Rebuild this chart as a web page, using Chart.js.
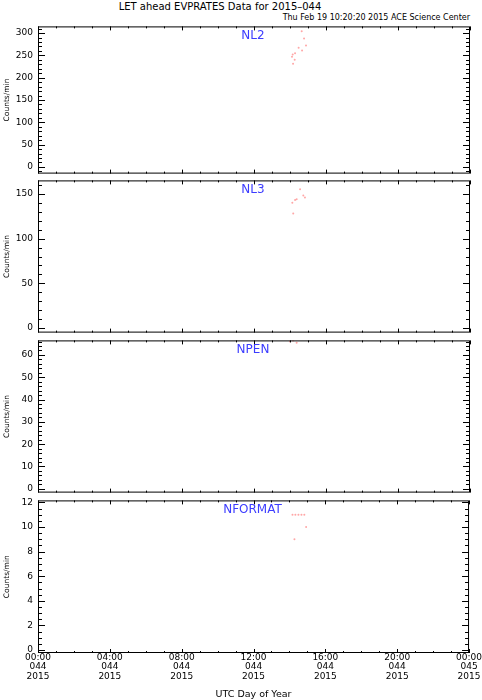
<!DOCTYPE html>
<html>
<head>
<meta charset="utf-8">
<script src="https://cdn.jsdelivr.net/npm/chart.js@4.4.0/dist/chart.umd.min.js"></script>
<style>
  body { margin: 0; background: #fff; }
  #page { position: relative; width: 482px; height: 700px; overflow: hidden; font-family: "DejaVu Sans", sans-serif; color: #000; }
  #title { position: absolute; left: 0; width: 440px; top: 1.5px; line-height: 10px; font-size: 10px; text-align: center; white-space: nowrap; }
  #stamp { position: absolute; right: 12px; top: 13.5px; line-height: 8px; font-size: 8px; white-space: nowrap; }
  canvas { position: absolute; left: 0; }
</style>
</head>
<body>
<div id="page">
  <div id="title">LET ahead EVPRATES Data for 2015&#8211;044</div>
  <div id="stamp">Thu Feb 19 10:20:20 2015 ACE Science Center</div>
  <canvas id="nl2"></canvas>
  <canvas id="nl3"></canvas>
  <canvas id="npen"></canvas>
  <canvas id="nformat"></canvas>
</div>
<script>
/***************************************
 * Data (hours of UTC day 044, counts/min)
 ***************************************/
const hourTicks = [0, 4, 8, 12, 16, 20, 24];
const hourLabels = [
  ['00:00', '044', '2015'], ['04:00', '044', '2015'], ['08:00', '044', '2015'],
  ['12:00', '044', '2015'], ['16:00', '044', '2015'], ['20:00', '044', '2015'],
  ['00:00', '045', '2015']
];

const nl2Hours  = [14.11, 14.15, 14.17, 14.26, 14.28, 14.48, 14.65, 14.67, 14.78, 14.89];
const nl2Counts = [247,   252,   231,   240,   255,   267,   304,   261,   288,   272];
const nl2Ticks  = [0, 50, 100, 150, 200, 250, 300];

const nl3Hours  = [14.13, 14.18, 14.28, 14.37, 14.56, 14.74, 14.83];
const nl3Counts = [140,   128,   143,   144,   155,   148,   146];
const nl3Ticks  = [0, 50, 100, 150];

const npenHours  = [14.00, 14.17, 14.37];
const npenCounts = [66,    66.5,  65.5];
const npenTicks  = [0, 10, 20, 30, 40, 50, 60];

const nformatHours  = [14.17, 14.28, 14.33, 14.50, 14.67, 14.83, 14.93];
const nformatCounts = [11,    9,     11,    11,    11,    11,    10];
const nformatTicks  = [0, 2, 4, 6, 8, 10, 12];

/***************************************
 * Panel setup
 ***************************************/
const panels = [
  { id: 'nl2',     name: 'NL2',     hours: nl2Hours,     counts: nl2Counts,     ticks: nl2Ticks,     minor: 10,  min: -15,  max: 315,   top: 24,  bottom: 176 },
  { id: 'nl3',     name: 'NL3',     hours: nl3Hours,     counts: nl3Counts,     ticks: nl3Ticks,     minor: 10,  min: -5,   max: 165,   top: 178, bottom: 335 },
  { id: 'npen',    name: 'NPEN',    hours: npenHours,    counts: npenCounts,    ticks: npenTicks,    minor: 2,   min: -1.7, max: 66.5,  top: 338, bottom: 495 },
  { id: 'nformat', name: 'NFORMAT', hours: nformatHours, counts: nformatCounts, ticks: nformatTicks, minor: 0.5, min: -0.24, max: 12.16, top: 498, bottom: 653 }
];

const PAD = 8;
const FONT = '"DejaVu Sans", sans-serif';

// IDL style frame: box plus inward ticks on all four sides, and the panel name
const idlFrame = {
  id: 'idlFrame',
  afterDatasetsDraw(chart, args, opts) {
    const { ctx, chartArea: a, scales: { x, y } } = chart;
    ctx.save();
    ctx.strokeStyle = '#000';
    ctx.lineWidth = 1;
    ctx.strokeRect(a.left + 0.5, a.top + 0.5, a.width - 1, a.height - 1);
    ctx.beginPath();
    for (let h = x.min; h <= x.max; h += 1) {
      const px = Math.round(x.getPixelForValue(h)) + 0.5;
      const len = h % 4 === 0 ? 4 : 2;
      ctx.moveTo(px, a.top); ctx.lineTo(px, a.top + len);
      ctx.moveTo(px, a.bottom); ctx.lineTo(px, a.bottom - len);
    }
    const step = opts.minor;
    for (let i = Math.ceil(y.min / step); i * step <= y.max; i++) {
      const v = +(i * step).toFixed(3);
      const py = Math.round(y.getPixelForValue(v)) + 0.5;
      const len = opts.major.includes(v) ? 7 : 4;
      ctx.moveTo(a.left, py); ctx.lineTo(a.left + len, py);
      ctx.moveTo(a.right, py); ctx.lineTo(a.right - len, py);
    }
    ctx.stroke();
    ctx.fillStyle = '#3c3cff';
    ctx.font = '12px ' + FONT;
    ctx.textAlign = 'center';
    ctx.textBaseline = 'middle';
    ctx.fillText(opts.name, (a.left + a.right) / 2 - 1, a.top + 9.5);
    ctx.restore();
  }
};

Chart.defaults.color = '#000';
Chart.defaults.font.family = FONT;

panels.forEach((p, i) => {
  const last = i === panels.length - 1;
  const canvas = document.getElementById(p.id);
  const top = p.top - PAD;
  const height = last ? 700 - top : (p.bottom - p.top) + 2 * PAD;
  canvas.width = 482;
  canvas.height = height;
  canvas.style.top = top + 'px';

  new Chart(canvas.getContext('2d'), {
    type: 'scatter',
    data: {
      datasets: [{
        data: p.hours.map((h, k) => ({ x: h, y: p.counts[k] })),
        backgroundColor: 'rgba(255, 60, 60, 0.45)',
        borderWidth: 0,
        pointRadius: 1,
        pointHoverRadius: 1
      }]
    },
    options: {
      responsive: false,
      animation: false,
      devicePixelRatio: 1,
      events: [],
      layout: { padding: { left: 0, right: 12, top: PAD, bottom: last ? 0 : PAD } },
      plugins: {
        legend: { display: false },
        tooltip: { enabled: false },
        idlFrame: { name: p.name, major: p.ticks, minor: p.minor }
      },
      scales: {
        x: {
          type: 'linear',
          display: last,
          min: 0,
          max: 24,
          grid: { display: false, drawTicks: false },
          border: { display: false },
          afterBuildTicks: s => { s.ticks = hourTicks.map(v => ({ value: v })); },
          afterFit: s => { s.height = last ? 47 : 0; },
          ticks: {
            autoSkip: false,
            maxRotation: 0,
            padding: 0,
            font: { size: 9, lineHeight: 1.03 },
            callback: (v, idx) => hourLabels[idx]
          },
          title: {
            display: true,
            text: 'UTC Day of Year',
            font: { size: 9.5, lineHeight: 1.2 },
            padding: { top: 0, bottom: 0 }
          }
        },
        y: {
          type: 'linear',
          min: p.min,
          max: p.max,
          grid: { display: false, drawTicks: false },
          border: { display: false },
          afterBuildTicks: s => { s.ticks = p.ticks.map(v => ({ value: v })); },
          afterFit: s => { s.width = 38; },
          ticks: {
            padding: 5,
            font: { size: 9 },
            callback: v => String(v)
          },
          title: {
            display: true,
            text: 'Counts/min',
            font: { size: 7.5, lineHeight: 1.2 },
            padding: { top: 3, bottom: 0 }
          }
        }
      }
    },
    plugins: [idlFrame]
  });
});
</script>
</body>
</html>
